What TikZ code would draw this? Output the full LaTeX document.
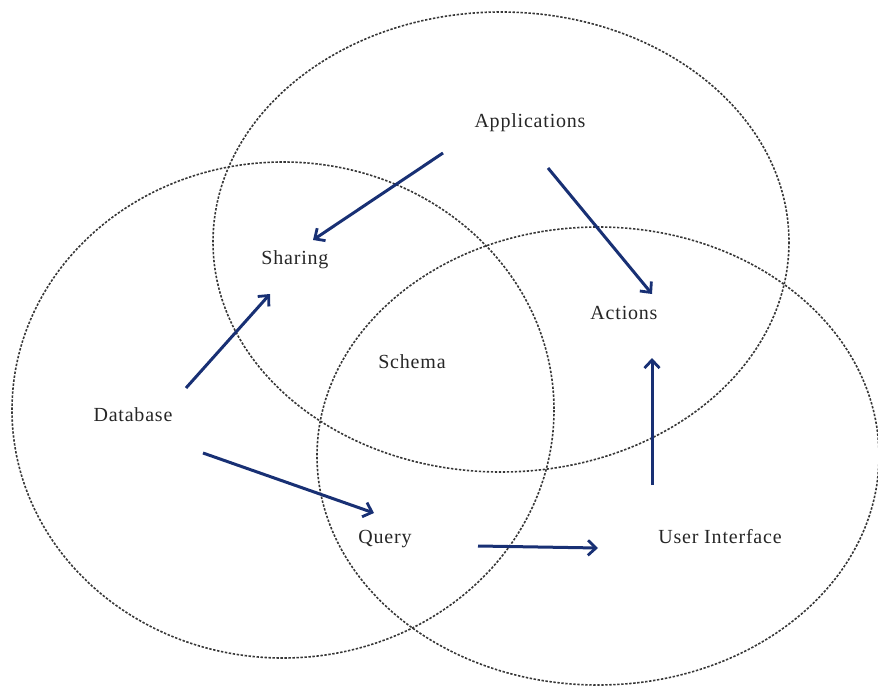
\documentclass[tikz,border=0pt]{standalone}
\usepackage{fontspec}
\setmainfont[LetterSpace=4]{Liberation Serif}
\usetikzlibrary{arrows.meta}
\definecolor{arrowblue}{RGB}{24,48,116}
\definecolor{ringgray}{RGB}{55,55,55}
\begin{document}
\begin{tikzpicture}[x=1pt,y=-1pt,
  ring/.style={draw=ringgray,line width=1.6pt,dash pattern=on 2.4pt off 1.6pt},
  flow/.style={draw=arrowblue,line width=3pt,-{Straight Barb[length=8pt,width=15pt,line width=2.8pt]}},
  label/.style={font=\fontsize{20}{24}\selectfont,inner sep=0pt,text=black!85}]
\useasboundingbox (0,0) rectangle (878,687);
% circles
\draw[ring] (283,410) ellipse [x radius=271, y radius=248];
\draw[ring] (501,242) ellipse [x radius=288, y radius=230];
\draw[ring] (598,456) ellipse [x radius=281, y radius=229];
% labels
\node[label] (app) at (530,123) {Applications};
\node[label] (shr) at (295,260) {Sharing};
\node[label] (act) at (624,313) {Actions};
\node[label] (sch) at (412,362) {Schema};
\node[label] (db)  at (133,415) {Database};
\node[label] (qry) at (385,539) {Query};
\node[label] (ui)  at (720,537) {User Interface};
% arrow ends
\coordinate (a1s) at (443,153); \coordinate (a1e) at (313,240);
\coordinate (a2s) at (548,168); \coordinate (a2e) at (652,294);
\coordinate (a3s) at (186,388); \coordinate (a3e) at (270,294);
\coordinate (a4s) at (203,453); \coordinate (a4e) at (374,513);
\coordinate (a5s) at (478,546); \coordinate (a5e) at (598,548);
\coordinate (a6s) at (652,485); \coordinate (a6e) at (652,358);
\draw[flow] (a1s) -- (a1e);
\draw[flow] (a2s) -- (a2e);
\draw[flow] (a3s) -- (a3e);
\draw[flow] (a4s) -- (a4e);
\draw[flow] (a5s) -- (a5e);
\draw[flow] (a6s) -- (a6e);
\end{tikzpicture}
\end{document}
